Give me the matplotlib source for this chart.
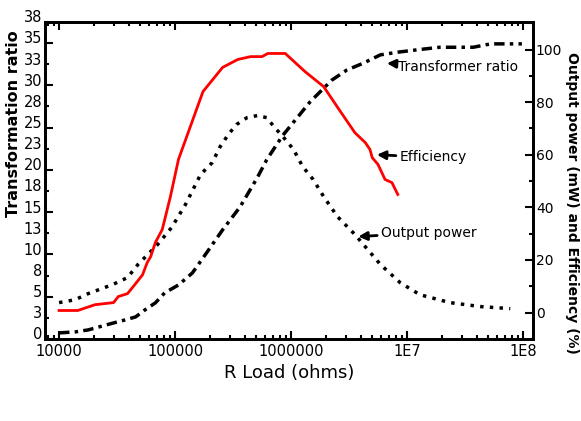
import matplotlib.pyplot as plt
import matplotlib.transforms as mtransforms
from matplotlib.ticker import LogLocator, NullFormatter

# efficiency (%) vs load resistance
eff_r = [1.0e4, 1.45e4, 2.04e4, 2.95e4, 3.24e4, 3.89e4, 4.57e4, 5.25e4, 5.75e4,
         6.17e4, 6.76e4, 7.76e4, 9.12e4, 1.07e5, 1.74e5, 2.57e5, 3.47e5, 4.47e5,
         5.62e5, 6.31e5, 8.91e5, 1.32e6, 1.91e6, 2.63e6, 3.55e6, 4.37e6, 4.79e6,
         5.01e6, 5.62e6, 6.46e6, 7.41e6, 8.32e6]
eff = [0.8, 0.8, 3.0, 3.8, 6.1, 7.2, 11.0, 14.4, 19.0,
       21.3, 26.6, 31.6, 44.1, 58.2, 84.0, 93.2, 96.2, 97.3,
       97.3, 98.5, 98.5, 91.6, 85.9, 76.8, 68.4, 64.6, 62.0,
       58.9, 56.3, 50.6, 49.4, 44.9]

# output power (mW)
pow_r = [1.0e4, 1.38e4, 1.78e4, 2.88e4, 3.89e4, 4.79e4, 7.08e4, 9.33e4, 1.23e5,
         1.66e5, 2.09e5, 2.45e5, 2.88e5, 3.39e5, 4.17e5, 5.13e5, 6.17e5, 7.24e5,
         8.51e5, 1.05e6, 1.26e6, 1.55e6, 1.91e6, 2.51e6, 3.55e6, 5.89e6, 8.71e6,
         1.29e7, 2.34e7, 4.27e7, 7.76e7]
power = [3.8, 4.9, 7.2, 10.6, 13.3, 18.3, 25.9, 32.3, 41.1,
         52.5, 57.0, 63.1, 67.7, 71.5, 74.1, 74.9, 74.1, 70.3,
         66.9, 62.0, 55.5, 50.6, 44.1, 36.5, 29.7, 18.3, 11.4,
         6.8, 3.8, 2.3, 1.5]

# transformer ratio
tr_r = [1.0e4, 1.38e4, 1.78e4, 2.95e4, 3.72e4, 4.57e4, 5.5e4, 6.76e4, 8.13e4,
        1.07e5, 1.41e5, 1.74e5, 2.57e5, 3.63e5, 5.13e5, 6.17e5, 8.51e5, 1.12e6,
        1.45e6, 2.24e6, 3.02e6, 4.17e6, 5.89e6, 8.13e6, 1.23e7, 1.91e7, 3.72e7,
        5.25e7, 9.77e7]
ratio = [0.71, 0.83, 1.06, 1.89, 2.25, 2.60, 3.43, 4.26, 5.44,
         6.38, 7.80, 9.57, 12.9, 15.6, 19.1, 21.2, 24.1, 26.1,
         28.0, 30.6, 31.8, 32.6, 33.6, 33.9, 34.2, 34.5, 34.5,
         34.9, 34.9]

x_ticks = [1e4, 1e5, 1e6, 1e7, 1e8]
x_labels = ["10000", "100000", "1000000", "1E7", "1E8"]
left_major = [0, 5, 10, 15, 20, 25, 30, 35]
left_minor = [2.5, 7.5, 12.5, 17.5, 22.5, 27.5, 32.5, 37.5]
right_major = [0, 20, 40, 60, 80, 100]
right_minor = [-10, 10, 30, 50, 70, 90, 110]

plt.rcParams["font.family"] = "DejaVu Sans"

fig = plt.figure(figsize=(5.81, 4.21), dpi=100)
ax = fig.add_axes([0.0775, 0.195, 0.84, 0.753])
ax2 = ax.twinx()

ax.plot(tr_r, ratio, color="black", lw=2.5, linestyle=(0, (3, 1.5, 1, 1.5)))
ax2.plot(pow_r, power, color="black", lw=2.5, linestyle=(0, (1, 1.8)))
ax2.plot(eff_r, eff, color="red", lw=2)

ax.set_xscale("log")
ax.set_xlim(7.57e3, 1.22e8)
ax.set_ylim(0, 37.5)
ax2.set_ylim(-10, 110.5)

ax.set_xticks(x_ticks)
ax.set_xticklabels(x_labels)
ax.xaxis.set_minor_locator(LogLocator(base=10, subs=range(2, 10), numticks=20))
ax.xaxis.set_minor_formatter(NullFormatter())

ax.set_yticks(left_major)
ax.set_yticks(left_minor, minor=True)
ax.set_yticklabels([str(v) for v in left_major])
ax.set_yticklabels([str(int(v + 0.5)) for v in left_minor], minor=True)

ax2.set_yticks(right_major)
ax2.set_yticks(right_minor, minor=True)
ax2.set_yticklabels([str(v) for v in right_major])

for a in (ax, ax2):
    for s in a.spines.values():
        s.set_linewidth(2)
ax.tick_params(axis="both", which="both", direction="in", width=1.5, labelsize=10.5)
ax.tick_params(axis="x", which="both", top=True)
ax.tick_params(which="major", length=6)
ax.tick_params(which="minor", length=3)
ax.tick_params(axis="y", which="both", pad=2)
ax2.tick_params(axis="y", which="both", direction="in", width=1.5, labelsize=10, pad=2)
ax2.tick_params(which="major", length=6)
ax2.tick_params(which="minor", length=3)

# left tick labels sit a little above their ticks
lift = mtransforms.ScaledTranslation(0, 4 / 72, fig.dpi_scale_trans)
for lbl in ax.get_yticklabels() + ax.get_yticklabels(minor=True):
    lbl.set_transform(lbl.get_transform() + lift)

ax.set_xlabel("R Load (ohms)", fontsize=13, labelpad=4)
ax.set_ylabel("Transformation ratio", fontsize=11.5, fontweight="bold")
ax.yaxis.set_label_coords(-0.05, 0.68)
ax2.set_ylabel("Output power (mW) and Efficiency (%)", fontsize=10,
               fontweight="bold", rotation=-90, va="center")
ax2.yaxis.set_label_coords(1.08, 0.43)

# callouts
arrow = dict(arrowstyle="-|>,head_length=0.5,head_width=0.25", color="black",
             lw=2, shrinkA=1, shrinkB=0)
ax.annotate("Transformer ratio", xy=(6.7e6, 32.6), xytext=(8.3e6, 32.2),
            fontsize=10, va="center", ha="left", arrowprops=arrow)
ax2.annotate("Efficiency", xy=(5.5e6, 60), xytext=(8.7e6, 59),
             fontsize=10, va="center", ha="left", arrowprops=arrow)
ax2.annotate("Output power", xy=(3.8e6, 28.9), xytext=(6.0e6, 30.4),
             fontsize=10, va="center", ha="left", arrowprops=arrow)

fig.savefig("out.png", dpi=100)
